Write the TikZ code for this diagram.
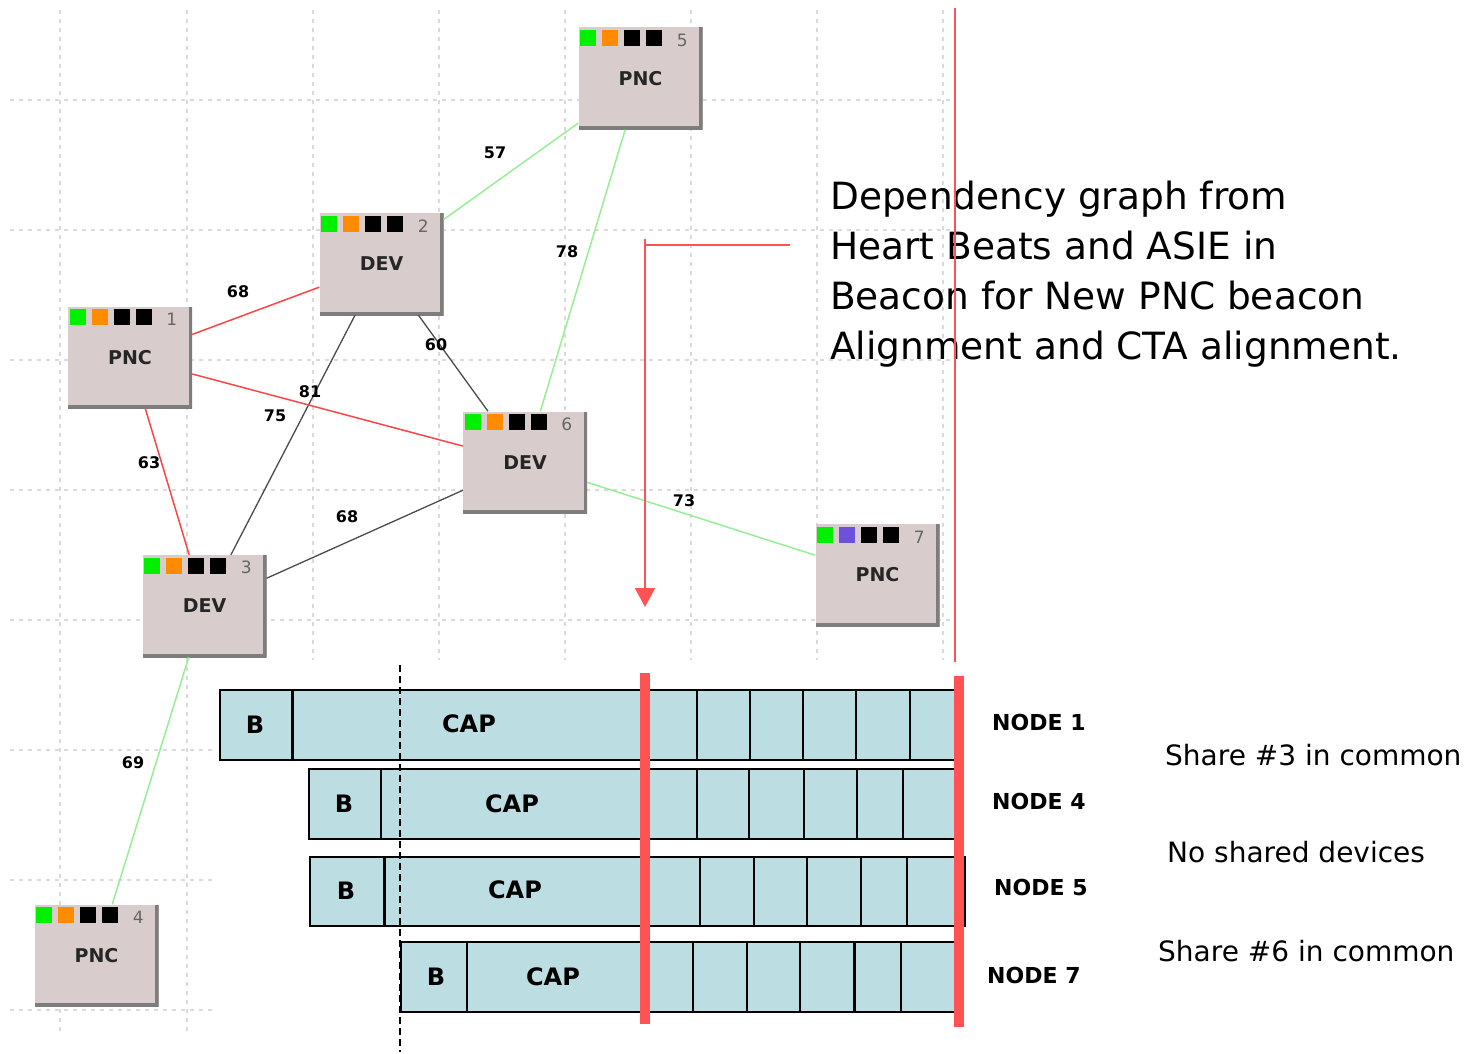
\documentclass[tikz,border=0pt]{standalone}
\usepackage{fontspec}
\setmainfont{DejaVu Sans}
\usetikzlibrary{arrows.meta}
\definecolor{boxgray}{RGB}{217, 204, 204}
\definecolor{boxshade}{RGB}{125, 125, 125}
\definecolor{linkgreen}{RGB}{150, 238, 150}
\definecolor{linkred}{RGB}{255, 70, 70}
\definecolor{linkdark}{RGB}{75, 75, 75}
\definecolor{marker}{RGB}{255, 82, 82}
\definecolor{slotblue}{RGB}{188, 222, 226}
\definecolor{ledgreen}{RGB}{0, 240, 0}
\definecolor{ledorange}{RGB}{255, 140, 0}
\definecolor{ledviolet}{RGB}{110, 80, 220}
\definecolor{gridgray}{RGB}{218, 218, 218}

\begin{document}
\begin{tikzpicture}[x=1pt, y=-1pt,
    devbox/.style={rectangle, fill=boxgray, minimum width=124pt, minimum height=102pt, inner sep=0pt,
        font=\fontsize{19}{22}\selectfont\bfseries, text=black!85,
        path picture={\draw[line width=7pt, boxshade] (path picture bounding box.north east) -- (path picture bounding box.south east) -- (path picture bounding box.south west);}},
    idtext/.style={font=\fontsize{17}{19}\selectfont, text=black!60, inner sep=0pt},
    wlabel/.style={font=\fontsize{16}{18}\selectfont\bfseries, inner sep=0pt},
    greenlink/.style={linkgreen, line width=1.5pt},
    redlink/.style={linkred, line width=1.5pt},
    darklink/.style={linkdark, line width=1.3pt},
    gridline/.style={gridgray, line width=1.2pt, dash pattern=on 4pt off 5pt},
    slotrow/.style={draw=black, line width=2pt, fill=slotblue},
    slotline/.style={line width=1.3pt},
    slotthick/.style={line width=3pt},
    rowtext/.style={font=\fontsize{24}{26}\selectfont\bfseries, inner sep=0pt},
    nodetext/.style={font=\fontsize{22}{24}\selectfont\bfseries, anchor=west, inner sep=0pt},
    notetext/.style={font=\fontsize{28}{32}\selectfont, anchor=west, inner sep=0pt},
    markline/.style={marker, line width=2pt},
    markbar/.style={marker, line width=10pt}]
    \useasboundingbox (0,0) rectangle (1480,1054);

    % background grid
    \foreach \y in {100,230,...,620} \draw[gridline] (10,\y) -- (950,\y);
    \foreach \y in {750,880,1010} \draw[gridline] (10,\y) -- (215,\y);
    \foreach \x in {60,187} \draw[gridline] (\x,10) -- (\x,1035);
    \foreach \x in {313,439,565,691,817,943} \draw[gridline] (\x,10) -- (\x,660);

    % devices
    \node[devbox] (n1) at (130,357.5) {PNC};
    \node[devbox] (n2) at (381.5,264) {DEV};
    \node[devbox] (n3) at (204.5,606) {DEV};
    \node[devbox] (n4) at (96.5,955.5) {PNC};
    \node[devbox] (n5) at (640.5,78.5) {PNC};
    \node[devbox] (n6) at (525,462.5) {DEV};
    \node[devbox] (n7) at (877.5,575) {PNC};
    \foreach \n/\led/\num in {n1/ledorange/1, n2/ledorange/2, n3/ledorange/3, n4/ledorange/4, n5/ledorange/5, n6/ledorange/6, n7/ledviolet/7} {
        \fill[ledgreen] ([shift={(2,3)}]\n.north west) rectangle +(16,16);
        \fill[\led] ([shift={(24,3)}]\n.north west) rectangle +(16,16);
        \fill[black] ([shift={(46,3)}]\n.north west) rectangle +(16,16);
        \fill[black] ([shift={(68,3)}]\n.north west) rectangle +(16,16);
        \node[idtext] (id\num) at ([shift={(104,13)}]\n.north west) {\num};
    }

    % links
    \draw[greenlink] (n5) -- (n2);
    \draw[greenlink] (n5) -- (n6);
    \draw[redlink] (n2) -- (n1);
    \draw[darklink] (n2) -- (n6);
    \draw[darklink] (n2) -- (n3);
    \draw[redlink] (n1) -- (n6);
    \draw[redlink] (n1) -- (n3);
    \draw[darklink] (n6) -- (n3);
    \draw[greenlink] (n6) -- (n7);
    \draw[greenlink] (n3) -- (n4);
    \node[wlabel] (w57) at (495,153) {57};
    \node[wlabel] (w78) at (567,252) {78};
    \node[wlabel] (w68a) at (238,292) {68};
    \node[wlabel] (w60) at (436,345) {60};
    \node[wlabel] (w81) at (310,392) {81};
    \node[wlabel] (w75) at (275,416) {75};
    \node[wlabel] (w63) at (149,463) {63};
    \node[wlabel] (w68b) at (347,517) {68};
    \node[wlabel] (w73) at (684,501) {73};
    \node[wlabel] (w69) at (133,763) {69};

    % superframes
    \draw[slotrow] (220,690) rectangle (955,760);
    \draw[slotthick] (292,690) -- (292,760);
    \foreach \x in {697,750,803,856,910} \draw[slotline] (\x,690) -- (\x,760);
    \draw[slotrow] (309,769) rectangle (955,839);
    \draw[slotline] (381,769) -- (381,839);
    \foreach \x in {697,749,804,857,903} \draw[slotline] (\x,769) -- (\x,839);
    \draw[slotrow] (310,857) rectangle (965,926);
    \draw[slotthick] (384,857) -- (384,926);
    \foreach \x in {700,754,807,861,907} \draw[slotline] (\x,857) -- (\x,926);
    \draw[slotrow] (401,942) rectangle (955,1012);
    \draw[slotline] (467,942) -- (467,1012);
    \foreach \x in {693,747,800,901} \draw[slotline] (\x,942) -- (\x,1012);
    \draw[slotthick] (854,942) -- (854,1012);

    \node[rowtext] (b1) at (255,725) {B};
    \node[rowtext] (cap1) at (469,724) {CAP};
    \node[rowtext] (b4) at (344,804) {B};
    \node[rowtext] (cap4) at (512,804) {CAP};
    \node[rowtext] (b5) at (346,891) {B};
    \node[rowtext] (cap5) at (515,890) {CAP};
    \node[rowtext] (b7) at (436,977) {B};
    \node[rowtext] (cap7) at (553,977) {CAP};

    \draw[black, line width=2.2pt, dash pattern=on 7pt off 4pt] (400,665) -- (400,1052);
    \draw[markbar] (645,673) -- (645,1024);
    \draw[markbar] (959,676) -- (959,1027);

    \node[nodetext] (lbl1) at (992,722) {NODE 1};
    \node[nodetext] (lbl4) at (992,801) {NODE 4};
    \node[nodetext] (lbl5) at (994,887) {NODE 5};
    \node[nodetext] (lbl7) at (987,975) {NODE 7};
    \node[notetext] (share3) at (1165,755) {Share \#3 in common};
    \node[notetext] (noshare) at (1167,852) {No shared devices};
    \node[notetext] (share6) at (1158,951) {Share \#6 in common};

    % caption and markers
    \node[font=\fontsize{37.5}{50}\selectfont, align=left, anchor=north west, inner sep=0pt] (caption) at (830,181)
        {Dependency graph from\\Heart Beats and ASIE in\\Beacon for New PNC beacon\\Alignment and CTA alignment.};
    \draw[markline] (955,8) -- (955,662);
    \coordinate (arrowfrom) at (790,245);
    \coordinate (arrowtop) at (645,239);
    \coordinate (arrowto) at (645,607);
    \draw[markline] (arrowfrom) -- (arrowtop |- arrowfrom);
    \draw[markline, -{Triangle[width=20pt, length=19pt]}] (arrowtop) -- (arrowto);
\end{tikzpicture}
\end{document}
